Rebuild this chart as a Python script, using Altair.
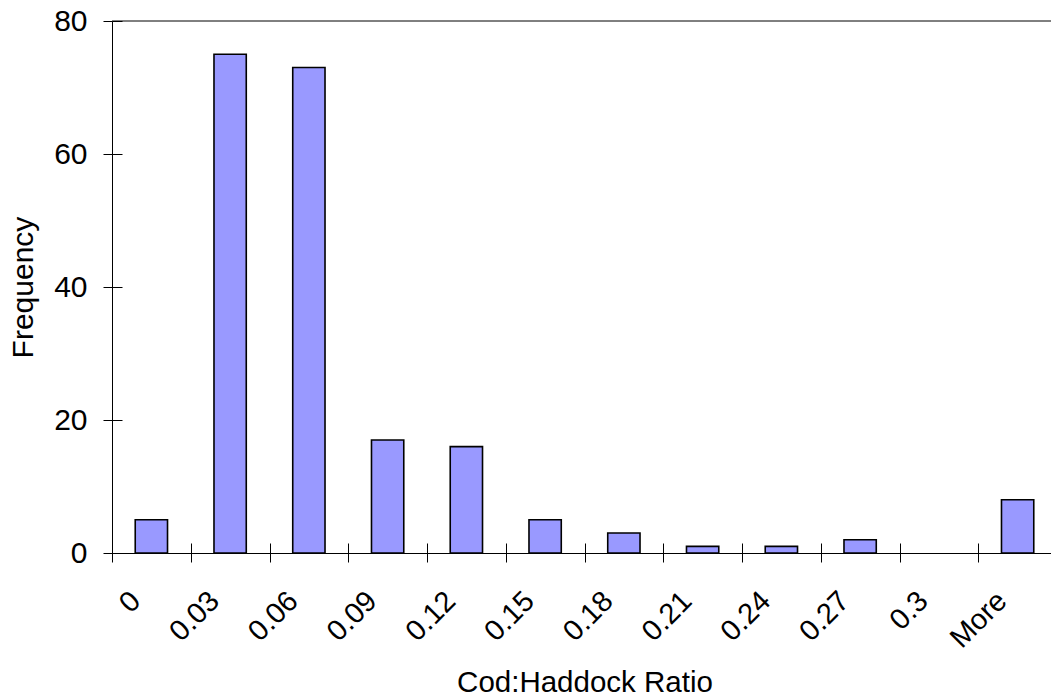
import altair as alt
import pandas as pd

# Histogram of cod:haddock ratios (bin upper limits, Excel-style)
bins = ["0", "0.03", "0.06", "0.09", "0.12", "0.15", "0.18", "0.21", "0.24", "0.27", "0.3", "More"]
frequency = [5, 75, 73, 17, 16, 5, 3, 1, 1, 2, 0, 8]

df = pd.DataFrame({"bin": bins, "frequency": frequency})

FONT = "Liberation Sans"

x_scale = alt.Scale(domain=bins, paddingInner=0, paddingOuter=0)
y_scale = alt.Scale(domain=[0, 80], nice=False)

# empty bins draw nothing
bars = alt.Chart(df).transform_filter("datum.frequency > 0").mark_bar(
    fill="#9999FF", stroke="black", strokeWidth=1.6, width={"band": 0.41}
).encode(
    x=alt.X("bin:N", sort=bins, scale=x_scale,
            axis=alt.Axis(title="Cod:Haddock Ratio", orient="bottom",
                          tickBand="extent", tickSize=9, tickColor="black",
                          domainColor="black", labelAngle=-45, labelAlign="right",
                          labelBaseline="middle", labelPadding=34, labelOffset=-16,
                          labelFontSize=29, labelFont=FONT, labelColor="black",
                          titleFontSize=29.5, titleFont=FONT, titleFontWeight="normal",
                          titleColor="black", titleBaseline="alphabetic", titleY=138)),
    y=alt.Y("frequency:Q", scale=y_scale,
            axis=alt.Axis(title="Frequency", orient="left", values=[0, 20, 40, 60, 80],
                          tickSize=9, tickColor="black", domainColor="black", grid=False,
                          labelPadding=16, labelFontSize=30, labelFont=FONT,
                          labelColor="black", titleFontSize=30, titleFont=FONT,
                          titleFontWeight="normal", titleColor="black",
                          titleBaseline="alphabetic", titleX=-80)),
)

# inner halves of the tick marks, so ticks cross the axis lines
inner_ticks = alt.Chart(df).mark_bar(opacity=0).encode(
    x=alt.X("bin:N", sort=bins, scale=x_scale,
            axis=alt.Axis(title=None, orient="bottom", offset=-10, tickBand="extent",
                          tickSize=10, tickColor="black", domain=False, labels=False)),
    y=alt.Y("frequency:Q", scale=y_scale,
            axis=alt.Axis(title=None, orient="left", offset=-10, values=[0, 20, 40, 60, 80],
                          tickSize=10, tickColor="black", domain=False, labels=False,
                          grid=False)),
)

top_line = alt.Chart(pd.DataFrame({"top": [80]})).mark_rule(
    color="black", strokeWidth=1
).encode(y=alt.Y("top:Q", scale=y_scale, axis=None))

# the plot area runs slightly past the right edge of the canvas
chart = alt.layer(bars, inner_ticks, top_line).resolve_axis(
    x="independent", y="independent"
).properties(
    width=945, height=532,
    autosize=alt.AutoSizeParams(type="none"),
    padding={"left": 112, "top": 21, "right": -6, "bottom": 145},
    background="white",
).configure_view(stroke=None)

chart.save("out.html", embed_options={"renderer": "svg", "actions": False})
